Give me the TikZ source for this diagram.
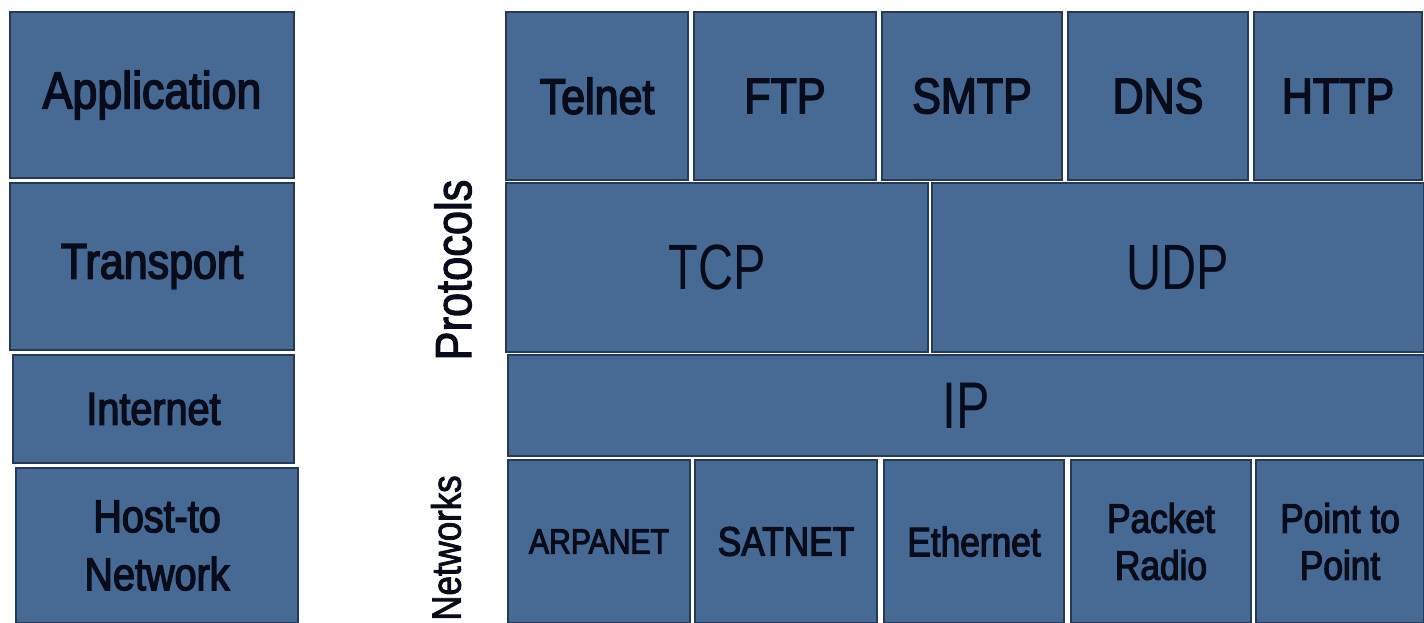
\documentclass[tikz,border=0pt]{standalone}
\usepackage{fontspec}
\setmainfont[FakeStretch=0.86,FakeBold=3]{Liberation Sans}
\newfontfamily\thinfont[FakeStretch=0.76]{Liberation Sans}
\newfontfamily\sidefont[FakeStretch=0.85,FakeBold=2]{Liberation Sans}
\usepackage{tikz}
\usetikzlibrary{positioning}
\definecolor{layerblue}{RGB}{70, 106, 148}
\definecolor{edgeblue}{RGB}{38, 58, 88}
\definecolor{inkblack}{RGB}{8, 12, 26}

\begin{document}
\begin{tikzpicture}[
        x=1pt, y=-1pt,
        box/.style 2 args={draw=edgeblue, fill=layerblue, line width=1.2pt, inner sep=0pt, outer sep=0pt,
            align=center, text=inkblack, minimum width=#1, minimum height=#2},
        big/.style={font=\fontsize{50}{58}\selectfont},
        mid/.style={font=\fontsize{41}{47}\selectfont},
        small/.style={font=\fontsize{35}{40}\selectfont},
        huge/.style={font=\thinfont\fontsize{66}{70}\selectfont},
        side/.style={rotate=90, text=inkblack}
    ]
    \useasboundingbox (0,0) rectangle (1424,623);
    \node[box={284pt}{166pt}, big, font=\fontsize{52}{58}\selectfont] (app) at (152,95) {Application};
    \node[box={284pt}{167pt}, big, below=5pt of app] (trans) {Transport};
    \node[box={281pt}{108pt}, big, font=\fontsize{46}{58}\selectfont, below=5pt of trans, xshift=1.5pt] (inet) {Internet};
    \node[box={282pt}{155pt}, big, font=\fontsize{46}{58}\selectfont, below=5pt of inet, xshift=3.5pt] (host) {Host-to\\Network};

    \node[box={182pt}{168pt}, big] (telnet) at (597,96) {Telnet};
    \node[box={182pt}{168pt}, big, right=6pt of telnet] (ftp) {FTP};
    \node[box={180pt}{168pt}, big, right=6pt of ftp] (smtp) {SMTP};
    \node[box={180pt}{168pt}, big, right=6pt of smtp] (dns) {DNS};
    \node[box={168pt}{168pt}, big, right=6pt of dns] (http) {HTTP};

    \node[box={422pt}{169pt}, huge, font=\thinfont\fontsize{64}{70}\selectfont,
        below=3pt of telnet.south west, anchor=north west] (tcp) {TCP};
    \node[box={492pt}{169pt}, huge, font=\thinfont\fontsize{64}{70}\selectfont, right=4pt of tcp] (udp) {UDP};
    \node[box={916pt}{101pt}, huge, below=3pt of tcp.south west, anchor=north west, xshift=2pt] (ip) {IP};

    \node[box={182pt}{163pt}, small, below=4pt of ip.south west, anchor=north west] (arpa) {ARPANET};
    \node[box={182pt}{163pt}, mid, right=5pt of arpa] (satnet) {SATNET};
    \node[box={180pt}{163pt}, mid, right=7pt of satnet] (ether) {Ethernet};
    \node[box={180pt}{163pt}, mid, right=7pt of ether] (packet) {Packet\\Radio};
    \node[box={168pt}{163pt}, mid, right=5pt of packet] (ptp) {Point to\\Point};

    \node[side, font=\sidefont\fontsize{51}{50}\selectfont] (proto) at (453,270) {Protocols};
    \node[side, font=\sidefont\fontsize{41}{40}\selectfont] (nets) at (446,548) {Networks};
\end{tikzpicture}
\end{document}
